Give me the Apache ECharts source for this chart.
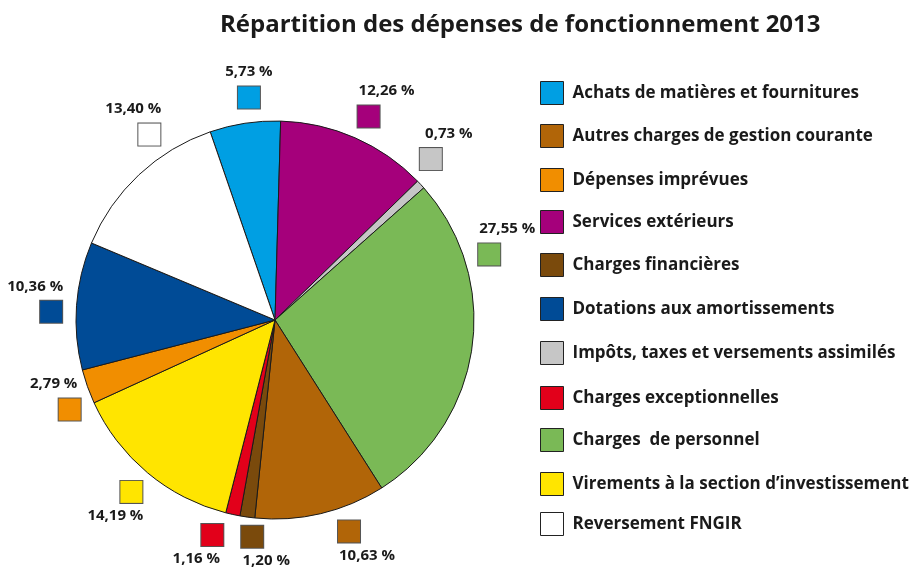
<!DOCTYPE html>
<html>
<head>
<meta charset="utf-8">
<script src="https://cdn.jsdelivr.net/npm/echarts@6/dist/echarts.min.js"></script>
<style>
  html, body { margin: 0; padding: 0; background: #fff; }
  #chart { width: 909px; height: 569px; }
</style>
</head>
<body>
<div id="chart"></div>
<script>
// postes de dépense, dans l'ordre du camembert (sens horaire)
var postes = [
  'Achats de matières et fournitures',
  'Services extérieurs',
  'Impôts, taxes et versements assimilés',
  'Charges  de personnel',
  'Autres charges de gestion courante',
  'Charges financières',
  'Charges exceptionnelles',
  'Virements à la section d’investissement',
  'Dépenses imprévues',
  'Dotations aux amortissements',
  'Reversement FNGIR'
];
var pourcentages = [5.73, 12.26, 0.73, 27.55, 10.63, 1.20, 1.16, 14.19, 2.79, 10.36, 13.40];
var couleurs = ['#009fe3', '#a5007b', '#c6c6c6', '#7ab956', '#b16508', '#7a4a0c', '#e2001a', '#ffe500', '#f18e00', '#004b96', '#ffffff'];

// ordre de la légende
var ordreLegende = [
  'Achats de matières et fournitures',
  'Autres charges de gestion courante',
  'Dépenses imprévues',
  'Services extérieurs',
  'Charges financières',
  'Dotations aux amortissements',
  'Impôts, taxes et versements assimilés',
  'Charges exceptionnelles',
  'Charges  de personnel',
  'Virements à la section d’investissement',
  'Reversement FNGIR'
];

// mise en page
var CX = 275, CY = 320, RAYON = 199, R_ETIQ = 224, START = 109;
var legendTop = [81, 124, 168, 210, 253, 297, 341, 386, 428, 472, 512];
// petits décalages d'angle des étiquettes (degrés)
var decalage = {
  'Achats de matières et fournitures': 2,
  'Services extérieurs': 1,
  'Charges  de personnel': -25,
  'Autres charges de gestion courante': -6,
  'Charges financières': -2,
  'Charges exceptionnelles': 4,
  'Reversement FNGIR': 9,
  'Impôts, taxes et versements assimilés': -3,
  'Dépenses imprévues': -4,
  'Dotations aux amortissements': -2
};
var rayonEtiq = { 'Charges financières': 218 };
// côté du texte par rapport au carré, quand il diffère de la règle
var cote = { 'Charges financières': 1, 'Achats de matières et fournitures': 0 };

var police = '"Open Sans", "Noto Sans", sans-serif';

function fmt(v) {
  return v.toFixed(2).replace('.', ',') + ' %';
}

// angle (rad, sens horaire depuis le haut) de chaque étiquette
var total = pourcentages.reduce(function (a, b) { return a + b; }, 0);
var angles = [];
var cumul = 0;
pourcentages.forEach(function (v, i) {
  var deg = (90 - START) + (cumul + v / 2) / total * 360 + (decalage[postes[i]] || 0);
  angles.push(deg * Math.PI / 180);
  cumul += v;
});

function ecart(i) {
  var n = postes[i];
  if (n in cote) return cote[n] * 14;
  var s = Math.sin(angles[i]);
  if (Math.abs(s) < 0.15) return 0;
  return s > 0 ? 18 : -16;
}

var donnees = postes.map(function (n, i) {
  var e = ecart(i);
  return {
    name: n,
    value: pourcentages[i],
    itemStyle: { color: couleurs[i] },
    label: {
      rich: {
        b: { backgroundColor: couleurs[i] },
        sp: { width: Math.abs(e) * 2, height: 22 }
      }
    }
  };
});

var legendes = ordreLegende.map(function (n, k) {
  return {
    data: [n],
    left: 540,
    top: legendTop[k],
    padding: 0,
    orient: 'vertical',
    icon: 'rect',
    itemWidth: 23,
    itemHeight: 23,
    selectedMode: false,
    itemStyle: { borderColor: '#222', borderWidth: 1 },
    textStyle: { fontFamily: police, fontWeight: 'bold', fontSize: 17, color: '#1a1a1a', padding: [0, 0, 0, 4] }
  };
});

var chart = echarts.init(document.getElementById('chart'), null, { renderer: 'canvas' });

chart.setOption({
  animation: false,
  backgroundColor: '#ffffff',
  title: {
    text: 'Répartition des dépenses de fonctionnement 2013',
    left: 220,
    top: 13,
    padding: 0,
    textStyle: { fontFamily: police, fontWeight: 'bold', fontSize: 24, color: '#1a1a1a', lineHeight: 24 }
  },
  legend: legendes,
  series: [{
    type: 'pie',
    center: [CX, CY],
    radius: RAYON,
    startAngle: START,
    clockwise: true,
    avoidLabelOverlap: false,
    emphasis: { scale: false },
    itemStyle: { borderColor: '#1a1a1a', borderWidth: 1 },
    labelLine: { show: false },
    label: {
      show: true,
      position: 'outside',
      formatter: function (p) {
        var i = p.dataIndex;
        var e = ecart(i);
        var carre = e > 0 ? '{b|}{sp|}' : (e < 0 ? '{sp|}{b|}' : '{b|}');
        if (Math.cos(angles[i]) > -0.5) {
          return '{t|' + fmt(p.value) + '}\n' + carre;
        }
        return carre + '\n{tb|' + fmt(p.value) + '}';
      },
      rich: {
        t: { fontFamily: police, fontWeight: 'bold', fontSize: 15, color: '#1a1a1a', lineHeight: 28 },
        tb: { fontFamily: police, fontWeight: 'bold', fontSize: 15, color: '#1a1a1a', lineHeight: 25 },
        b: { width: 22, height: 22, borderColor: '#555', borderWidth: 1, lineHeight: 23 },
        sp: { height: 22, lineHeight: 23 }
      }
    },
    labelLayout: function (p) {
      var i = p.dataIndex;
      var a = angles[i];
      var r = rayonEtiq[postes[i]] || R_ETIQ;
      var sx = CX + r * Math.sin(a);
      var sy = CY - r * Math.cos(a);
      var haut = Math.cos(a) > -0.5;
      return {
        x: sx + ecart(i),
        y: haut ? sy + 11.5 : sy - 11.5,
        align: 'center',
        verticalAlign: haut ? 'bottom' : 'top'
      };
    },
    data: donnees
  }]
});
</script>
</body>
</html>
